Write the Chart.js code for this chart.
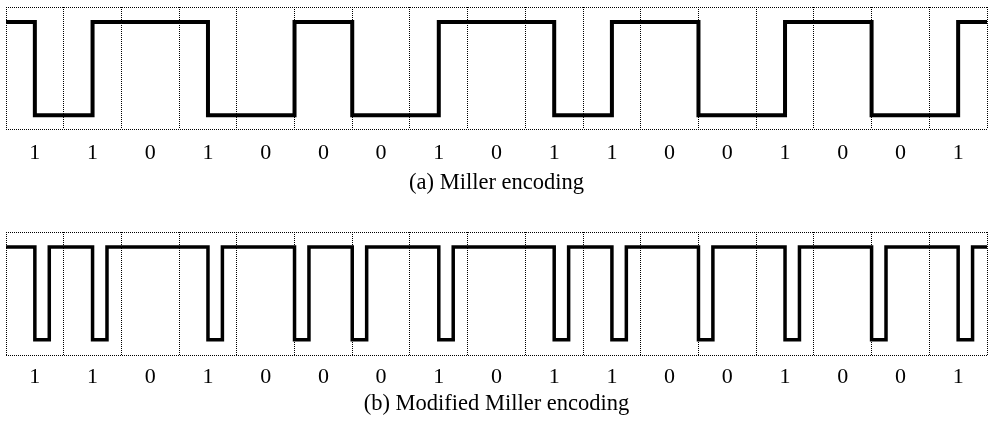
<!DOCTYPE html>
<html>
<head>
<meta charset="utf-8">
<script src="https://cdn.jsdelivr.net/npm/chart.js@4"></script>
<style>
  body { margin: 0; background: #fff; }
  canvas { position: absolute; left: 0; }
  #graphA { top: 0; }
  #graphB { top: 225px; }
</style>
</head>
<body>
<canvas id="graphA" width="988" height="200"></canvas>
<canvas id="graphB" width="988" height="199"></canvas>
<script>
// bits under each cell
const bits = ['1', '1', '0', '1', '0', '0', '0', '1', '0', '1', '1', '0', '0', '1', '0', '0', '1'];

// Miller encoding : level changes (in bit cells)
const millerX = [0, 0.5, 1.5, 3.5, 5, 6, 7.5, 9.5, 10.5, 12, 13.5, 15, 16.5, 17];
const millerY = [1, 0, 1, 0, 1, 0, 1, 0, 1, 0, 1, 0, 1, 1];

// Modified Miller : short low pulses
const modX = [0, 0.5, 0.75, 1.5, 1.75, 3.5, 3.75, 5, 5.25, 6, 6.25, 7.5, 7.75,
    9.5, 9.75, 10.5, 10.75, 12, 12.25, 13.5, 13.75, 15, 15.25, 16.5, 16.75, 17];
const modY = [1, 0, 1, 0, 1, 0, 1, 0, 1, 0, 1, 0, 1, 0, 1, 0, 1, 0, 1, 0, 1, 0, 1, 0, 1, 1];

const captionA = '(a) Miller encoding';
const captionB = '(b) Modified Miller encoding';

const serif = 'Liberation Serif';

// config block
function config(xs, ys, width, ymin, ymax, caption, axisH, tickPad, titleBottom) {
    const points = xs.map((x, i) => ({ x: x, y: ys[i] }));
    const ticks = [];
    for (let i = 0; i <= bits.length; i++) {
        ticks.push(i);
        if (i < bits.length) ticks.push(i + 0.5);
    }
    return {
        type: 'line',
        data: {
            datasets: [{
                data: points,
                stepped: true,
                borderColor: '#000',
                borderWidth: width,
                borderJoinStyle: 'miter',
                borderCapStyle: 'butt',
                pointRadius: 0,
                fill: false
            }]
        },
        options: {
            responsive: false,
            animation: false,
            layout: {
                padding: { left: 6, right: 1, top: 7, bottom: 0 }
            },
            plugins: {
                legend: { display: false },
                tooltip: { enabled: false }
            },
            scales: {
                x: {
                    type: 'linear',
                    min: 0,
                    max: bits.length,
                    afterBuildTicks: scale => {
                        scale.ticks = ticks.map(v => ({ value: v }));
                    },
                    afterFit: scale => {
                        scale.height = axisH;
                        scale.paddingLeft = 0;
                        scale.paddingRight = 0;
                    },
                    grid: {
                        drawTicks: false,
                        lineWidth: 1,
                        color: c => Number.isInteger(c.tick.value) ? '#000' : 'rgba(0,0,0,0)'
                    },
                    border: { display: false, dash: [1, 1] },
                    ticks: {
                        autoSkip: false,
                        maxRotation: 0,
                        padding: tickPad,
                        color: '#000',
                        font: { family: serif, size: 22, lineHeight: 1 },
                        callback: v => Number.isInteger(v) ? '' : bits[Math.floor(v)]
                    },
                    title: {
                        display: true,
                        text: caption,
                        color: '#000',
                        font: { family: serif, size: 22.5, lineHeight: 1 },
                        padding: { top: 0, bottom: titleBottom }
                    }
                },
                y: {
                    min: ymin,
                    max: ymax,
                    afterBuildTicks: scale => {
                        scale.ticks = [{ value: ymin }, { value: ymax }];
                    },
                    afterFit: scale => {
                        scale.width = 0;
                    },
                    grid: { drawTicks: false, color: '#000', lineWidth: 1 },
                    border: { display: false, dash: [1, 1] },
                    ticks: { display: false }
                }
            }
        }
    };
}

// Miller
const chartA = new Chart(
    document.getElementById('graphA'),
    config(millerX, millerY, 4, -0.147, 1.161, captionA, 71, 13.5, 6)
);

// Modified Miller
const chartB = new Chart(
    document.getElementById('graphB'),
    config(modX, modY, 3.5, -0.165, 1.162, captionB, 69, 11, 9)
);
</script>
</body>
</html>
